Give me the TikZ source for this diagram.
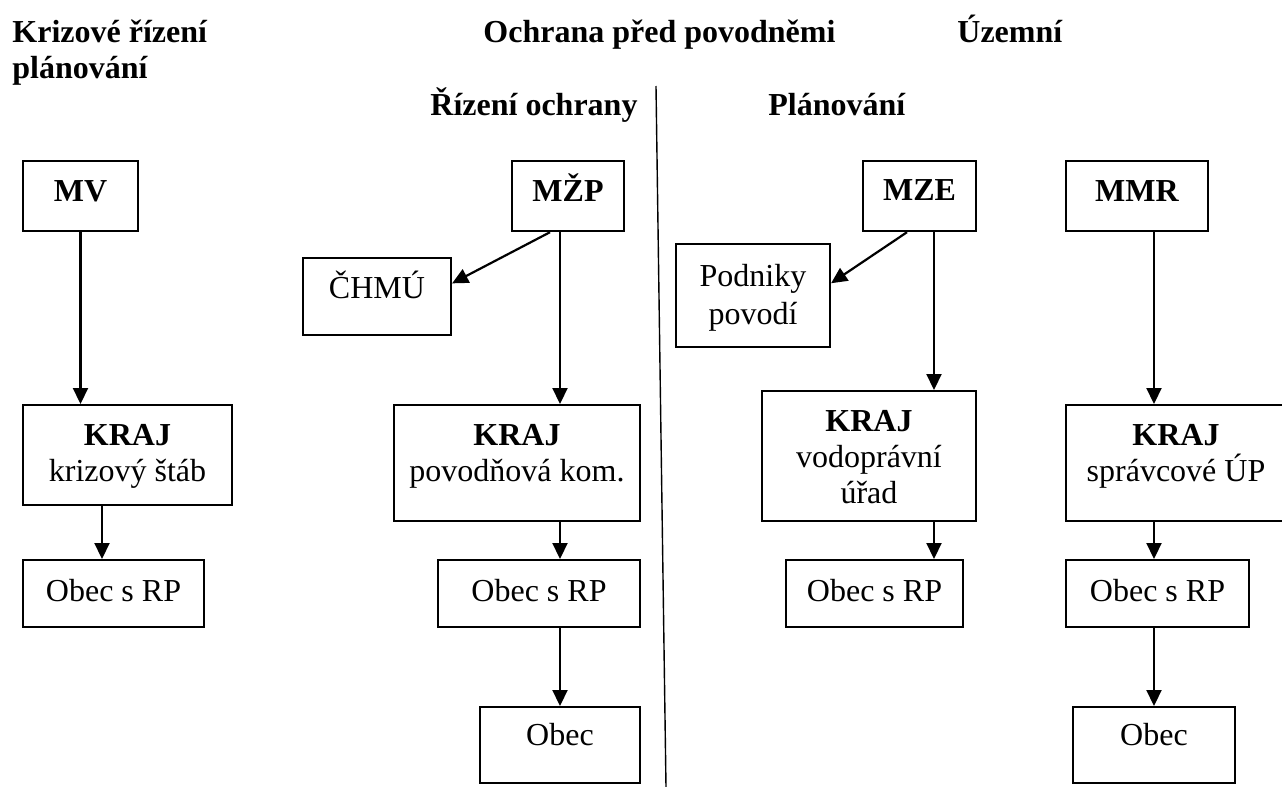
\documentclass[tikz,border=0pt]{standalone}
\usepackage{fontspec}
\setmainfont{Liberation Serif}
\usetikzlibrary{arrows.meta}

\tikzset{
  box/.style n args={3}{draw, line width=1.1pt, inner sep=0pt, anchor=north, align=center,
    minimum width=#1, text height=#2, text depth=#3},
  arr/.style={-{Triangle[length=8pt,width=7.5pt]}, line width=1.1pt},
  heading/.style={font=\fontsize{16}{18}\selectfont\bfseries, inner sep=0pt, anchor=base west, align=left}
}

\begin{document}
\begin{tikzpicture}[x=0.5pt, y=-0.5pt, font=\fontsize{16}{18}\selectfont]
\useasboundingbox (0,0) rectangle (1282,787);

\node[heading] (krize) at (12,78) {Krizové řízení\\plánování};
\node[heading] (ochrana) at (483,42) {Ochrana před povodněmi};
\node[heading] (uzemni) at (957,42) {Územní};
\node[heading] (rizeni) at (430,115) {Řízení ochrany};
\node[heading] (planovani) at (768,115) {Plánování};

\draw[line width=0.7pt] (656,86) -- (666,787);

\node[box={57.5pt}{20pt}{15pt}] (mv) at (80.5,160) {\textbf{MV}};
\node[box={56pt}{20pt}{15pt}] (mzp) at (568,160) {\textbf{MŽP}};
\node[box={56.5pt}{19.5pt}{15.5pt}] (mze) at (919.5,160) {\textbf{MZE}};
\node[box={71pt}{20pt}{15pt}] (mmr) at (1137,160) {\textbf{MMR}};

\node[box={74pt}{20pt}{18.5pt}] (chmu) at (377,257) {ČHMÚ};
\node[box={77pt}{40pt}{11.5pt}] (podniky) at (753,243) {Podniky\\[1pt]povodí};

\node[box={104.5pt}{38pt}{12pt}] (kraj1) at (127.5,404) {\textbf{KRAJ}\\krizový štáb};
\node[box={123pt}{38pt}{20pt}] (kraj2) at (517,404) {\textbf{KRAJ}\\povodňová kom.};
\node[box={107pt}{56pt}{9pt}] (kraj3) at (869,390) {\textbf{KRAJ}\\vodoprávní\\úřad};
\node[box={110pt}{38pt}{20pt}] (kraj4) at (1176,404) {\textbf{KRAJ}\\správcové ÚP};

\node[box={90.5pt}{20.5pt}{13pt}] (obrp1) at (113.5,559) {Obec s RP};
\node[box={101pt}{20.5pt}{13pt}] (obrp2) at (539,559) {Obec s RP};
\node[box={88.5pt}{20.5pt}{13pt}] (obrp3) at (874.5,559) {Obec s RP};
\node[box={91.5pt}{20.5pt}{13pt}] (obrp4) at (1157.5,559) {Obec s RP};

\node[box={80pt}{19pt}{19pt}] (obec2) at (560,706) {Obec};
\node[box={81pt}{19pt}{19pt}] (obec4) at (1154,706) {Obec};

\draw[arr] (mv.south) -- (mv.south |- kraj1.north);
\draw[arr] ([xshift=-5.75pt]obrp1.north |- kraj1.south) -- ([xshift=-5.75pt]obrp1.north);

\draw[arr] ([xshift=-9pt]mzp.south) -- (chmu.10);
\draw[arr] (mzp.south -| obec2.north) -- (kraj2.north -| obec2.north);
\draw[arr] (kraj2.south -| obec2.north) -- (obrp2.north -| obec2.north);
\draw[arr] (obrp2.south -| obec2.north) -- (obec2.north);

\draw[arr] ([xshift=-6.25pt]mze.south) -- (podniky.9);
\draw[arr] ([xshift=7.25pt]mze.south) -- ([xshift=7.25pt]mze.south |- kraj3.north);
\draw[arr] ([xshift=29.75pt]obrp3.north |- kraj3.south) -- ([xshift=29.75pt]obrp3.north);

\draw[arr] (mmr.south -| obec4.north) -- (kraj4.north -| obec4.north);
\draw[arr] (kraj4.south -| obec4.north) -- (obrp4.north -| obec4.north);
\draw[arr] (obrp4.south -| obec4.north) -- (obec4.north);
\end{tikzpicture}
\end{document}
